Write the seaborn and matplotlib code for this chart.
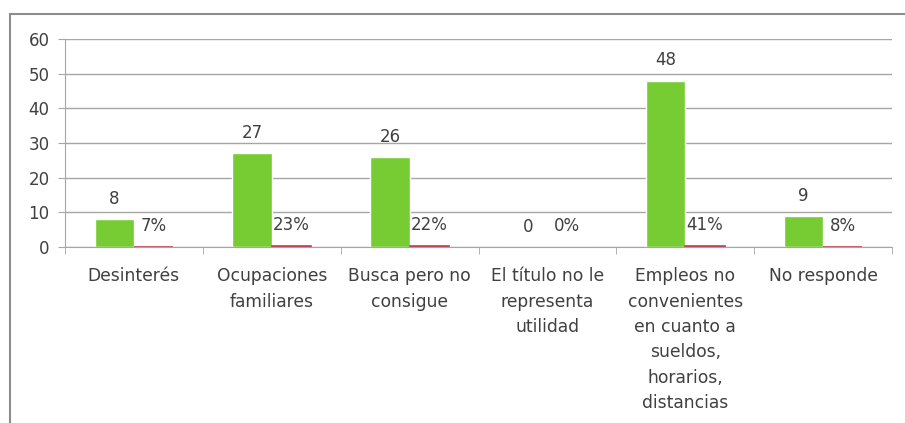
import numpy as np
import matplotlib
matplotlib.use("Agg")
import matplotlib.pyplot as plt
import seaborn as sns
import pandas as pd

categorias = ["Desinterés", "Ocupaciones\nfamiliares", "Busca pero no\nconsigue",
              "El título no le\nrepresenta\nutilidad",
              "Empleos no\nconvenientes\nen cuanto a\nsueldos,\nhorarios,\ndistancias",
              "No responde"]
cantidad = [8, 27, 26, 0, 48, 9]
porcentaje = [0.07, 0.23, 0.22, 0.0, 0.41, 0.08]

df = pd.DataFrame({
    "cat": categorias * 2,
    "valor": cantidad + porcentaje,
    "serie": ["n"] * len(categorias) + ["pct"] * len(categorias),
})

sns.set_style("white")
plt.rcParams["font.family"] = ["DejaVu Sans"]
txt = "#404040"

fig = plt.figure(figsize=(9.05, 4.23), dpi=100)
ax = fig.add_axes([65 / 905, 1 - 247 / 423, 827 / 905, 208 / 423])

sns.barplot(data=df, x="cat", y="valor", hue="serie", order=categorias,
            hue_order=["n", "pct"], palette=["#77CC33", "#C0404F"],
            width=0.57, saturation=1, ax=ax, legend=False)

# red bars are almost zero height, draw them as a thin line
for p in ax.patches[len(categorias):]:
    if p.get_height() > 0:
        p.set_edgecolor("#C0404F")
        p.set_linewidth(1.2)

ax.set_ylim(0, 60)
ax.set_yticks(range(0, 61, 10))
ax.set_xlim(-0.5, len(categorias) - 0.5)
ax.yaxis.grid(True, color="#A6A6A6", linewidth=1)
ax.set_axisbelow(True)
for s in ["top", "right"]:
    ax.spines[s].set_visible(False)
for s in ["left", "bottom"]:
    ax.spines[s].set_color("#A6A6A6")
ax.set_xlabel("")
ax.set_ylabel("")

ax.tick_params(axis="y", left=True, length=5, pad=6, color="#A6A6A6", labelsize=12, labelcolor=txt)
ax.tick_params(axis="x", bottom=False, labelsize=12.3, labelcolor=txt, pad=11)
for lbl in ax.get_xticklabels():
    lbl.set_linespacing(1.53)
    lbl.set_verticalalignment("top")
ax.set_xticks(np.arange(-0.5, len(categorias), 1), minor=True)
ax.tick_params(axis="x", which="minor", bottom=True, length=5, color="#A6A6A6")

for i, (n, pc) in enumerate(zip(cantidad, porcentaje)):
    gx = ax.patches[i].get_x() + ax.patches[i].get_width() / 2
    rx = ax.patches[i + len(categorias)].get_x() + ax.patches[i + len(categorias)].get_width() / 2
    ax.annotate(str(n), (gx, n), xytext=(0, 14.5), textcoords="offset points",
                ha="center", va="center", fontsize=12, color=txt)
    ax.annotate(f"{round(pc * 100)}%", (rx, pc), xytext=(0, 15), textcoords="offset points",
                ha="center", va="center", fontsize=12, color=txt)

# chart frame
fig.add_artist(plt.Line2D([10 / 905, 10 / 905], [0, 1 - 14 / 423], transform=fig.transFigure,
                          color="#8C8C8C", linewidth=1.5))
fig.add_artist(plt.Line2D([10 / 905, 1], [1 - 14 / 423, 1 - 14 / 423], transform=fig.transFigure,
                          color="#8C8C8C", linewidth=1.5))

fig.savefig("out.png", dpi=100)
